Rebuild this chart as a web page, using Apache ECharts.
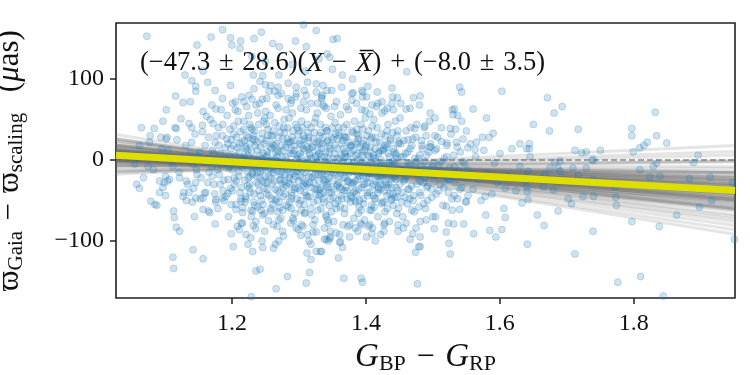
<!DOCTYPE html>
<html>
<head>
<meta charset="utf-8">
<script src="https://cdn.jsdelivr.net/npm/echarts@6/dist/echarts.min.js"></script>
<style>
  html, body { margin: 0; padding: 0; background: #fff; }
  #main { width: 750px; height: 375px; }
</style>
</head>
<body>
<div id="main"></div>
<script>
// x where the fit lines start and stop (edges of the plot)
const fitX = [1.027, 1.951]
// posterior sample lines: y at the left edge / y at the right edge
const sampleLeft = [25.7, 18.4, 22.6, 16.3, 17.4, 9.5, 15.9, 9.8, 10.6, 14.6, 5.0, 9.1, 4.7, 6.0, 7.6, 0.1, 4.2, 1.6, 6.0, -2.7, 0.9, -2.4, 0.2, -6.4, -11.6, -6.5, -15.1, 9.6, 2.4, 6.2, 6.1, 12.7, 0.0, 9.0, 3.4, 9.3, 3.0, 12.9, -0.6, 12.4, -1.8, 31.4, -17.7, 26.3, -14.6,
  23.8, 18.5, 21.0, 12.3, 15.6, 18.2, 9.9, 12.1, 4.9, 11.4, 7.4, 10.8, 3.6, 6.6, 3.0, 7.7, -1.5, 2.2, 4.1, -2.5, 0.1, -6.0, -3.8, -1.7, -9.0, -8.0, 26.3, -13.6, 11.4, 0.6, 8.6, 3.8, 5.4, 6.6, 12.8, -0.8, 18.4, -5.7, 11.6, 0.4]
const sampleRight = [-76.2, -72.8, -60.8, -61.7, -55.4, -59.3, -48.9, -51.1, -46.3, -39.6, -46.6, -39.9, -41.6, -37.7, -33.5, -38.3, -31.6, -31.6, -24.5, -29.2, -21.6, -21.0, -14.4, -15.8, -15.7, -2.6, -0.6, -35.5, -40.0, -41.5, -33.6, -37.7, -37.1, -44.0, -31.1, -50.2, -24.8, -49.2, -25.8, -57.8, -19.0, -91.6, 17.9, -86.2, 10.4,
  -70.1, -67.5, -59.7, -63.1, -55.9, -49.3, -53.6, -46.2, -50.7, -41.5, -42.9, -36.9, -41.4, -35.8, -36.8, -29.3, -36.0, -29.6, -25.0, -26.3, -19.8, -22.0, -15.8, -8.4, -10.4, -1.5, -80.8, 6.1, -48.1, -27.3, -37.8, -37.3, -46.3, -29.2, -52.1, -23.3, -59.6, -15.1, -32.1, -43.3]
// best fit line, y at left / right edge
const bestFit = [6.0, -37.7]
const zeroLine = [0, 0]
const xTicks = [1.2, 1.4, 1.6, 1.8]
const yTicks = [-100, 0, 100]

// scatter points [colour, offset]
const upperPoints = [[1.073,153],[1.186,161],[1.169,152],[1.148,142],[1.198,151],[1.213,147],[1.200,142],[1.212,138],[1.244,158],[1.233,150],[1.261,144],[1.271,140],[1.295,147],[1.311,140],[1.307,167],[1.326,160],[1.157,110],[1.130,105],[1.140,98],[1.146,91],[1.146,85],[1.164,96],[1.175,86],[1.198,92],[1.232,105],[1.246,104],[1.250,93],[1.242,97],[1.269,90],[1.269,80],[1.264,85],[1.284,95],[1.308,86],[1.313,96],[1.116,79],[1.127,71],[1.138,72],[1.102,62],[1.084,39],[1.094,28],[1.102,26],[1.077,22],[1.117,39],[1.124,51],[1.140,40],[1.156,43],[1.170,68],[1.176,63],[1.162,54],[1.186,76],[1.201,70],[1.218,72],[1.230,75],[1.284,76],[1.296,82],[1.326,84],[1.336,68],
  [1.351,149],[1.357,150],[1.342,131],[1.346,127],[1.365,105],[1.336,92],[1.342,86],[1.334,78],[1.381,83],[1.394,86],[1.395,78],[1.403,91],[1.439,89],[1.461,109],[1.447,77],[1.439,70],[1.471,77],[1.481,79],[1.460,63],[1.428,61],[1.418,70],[1.406,57],[1.399,61],[1.496,58],[1.503,52],[1.488,42],[1.540,90],[1.543,84],[1.603,85],[1.560,63],[1.532,63],[1.530,56],[1.543,48],[1.526,39],[1.534,38],[1.550,36],[1.580,52],[1.590,33],[1.574,28],[1.565,22],[1.521,21],[1.552,15],[1.563,13],[1.630,20],[1.640,14],
  [1.503,30],[1.513,23],[1.495,16],[1.463,25],[1.473,39],[1.487,40],[1.529,62],[1.537,55],
  [1.205,62],[1.215,78],[1.222,66],[1.233,88],[1.241,70],[1.252,76],[1.258,92],[1.266,68],[1.274,82],[1.281,62],[1.289,74],[1.296,90],[1.303,64],[1.311,80],[1.318,70],[1.326,94],[1.334,76],[1.341,64],[1.349,86],[1.356,72],[1.364,90],[1.371,66],[1.379,82],[1.386,70],[1.394,62],[1.401,78],[1.409,68],[1.417,84],[1.424,72],[1.432,64],[1.440,78],[1.452,70],[1.466,64],[1.480,68],[1.310,110],[1.290,118],[1.350,112],[1.250,122],[1.380,100],[1.270,105],[1.230,128],[1.330,125]]

const rightPoints = [[1.671,77],[1.681,58],[1.693,66],[1.650,44],[1.674,36],[1.644,20],[1.644,14],[1.717,38],[1.712,12],[1.722,9],[1.729,10],[1.750,12],[1.739,1],[1.797,39],[1.797,30],[1.832,59],[1.834,30],[1.849,21],[1.799,10],[1.809,15],[1.815,18],[1.820,22],[1.896,6],
  [1.640,-33],[1.641,-39],[1.642,-49],[1.656,-68],[1.666,-81],[1.641,-104],[1.687,-63],[1.702,-48],[1.707,-54],[1.712,-116],[1.739,-88],[1.724,-45],[1.740,-45],[1.717,-19],[1.709,-10],[1.729,-10],[1.687,-10],[1.675,-10],[1.690,-14],[1.665,-33],[1.680,-37],[1.739,-1],[1.739,-24],[1.773,-46],[1.774,-56],[1.797,-76],[1.776,-151],[1.810,-144],[1.838,-82],[1.809,-12],[1.824,-21],[1.829,-8],[1.839,-20],[1.834,-4],[1.864,-68],[1.844,-168],[1.883,-23],[1.889,-3],[1.914,-21],[1.916,-50],[1.898,-58],[1.947,-28],[1.950,-98],[1.682,-3],[1.690,-1],[1.667,-17],[1.642,-14],[1.772,-33]]

const lowerPoints = [[1.359,-121],[1.367,-146],[1.393,-146],[1.395,-151],[1.477,-153],[1.474,-114],[1.479,-107],[1.526,-116],[1.524,-103],[1.341,-98],[1.347,-95],[1.362,-101],[1.334,-113],[1.401,-95],[1.409,-91],[1.427,-88],[1.427,-80],[1.466,-98],[1.470,-91],[1.481,-95],[1.481,-107],[1.448,-80],[1.502,-85],[1.520,-89],[1.523,-78],[1.531,-79],[1.546,-79],[1.561,-91],[1.585,-87],[1.594,-95],[1.603,-86],[1.608,-71],[1.579,-68],[1.500,-70],[1.481,-76],[1.456,-84],[1.340,-68],[1.344,-78],[1.376,-80],[1.384,-84],[1.394,-80],[1.406,-80],[1.608,-35],[1.633,-53],[1.578,-45],[1.550,-51],[1.540,-61],[1.520,-57],
  [1.062,-35],[1.079,-51],[1.088,-56],[1.101,-44],[1.097,-34],[1.104,-26],[1.113,-63],[1.114,-71],[1.117,-83],[1.122,-88],[1.142,-111],[1.112,-120],[1.113,-134],[1.157,-122],[1.144,-70],[1.175,-79],[1.157,-61],[1.127,-45],[1.136,-40],[1.146,-47],[1.157,-47],[1.132,-50],[1.141,-52],[1.092,-26],[1.101,-20],[1.107,-24],[1.122,-22],[1.132,-26],[1.146,-28],[1.159,-41],[1.165,-63],[1.176,-49],[1.186,-47],[1.194,-41],[1.199,-55],[1.206,-61],[1.195,-70],[1.199,-91],[1.211,-86],[1.214,-78],[1.202,-107],[1.232,-81],[1.224,-104],[1.231,-113],[1.245,-100],[1.246,-108],[1.262,-109],[1.265,-104],[1.242,-135],[1.236,-137],[1.266,-159],[1.229,-169],[1.283,-144],[1.311,-152],[1.316,-139],[1.312,-115],[1.318,-123],[1.326,-113],[1.332,-113],[1.338,-98],[1.296,-84],[1.303,-93],[1.304,-80],[1.306,-82],[1.321,-89],[1.326,-89],[1.291,-72],[1.292,-75],[1.270,-74],[1.231,-63],[1.246,-68],[1.258,-63],[1.271,-59],[1.214,-51],[1.216,-59],[1.344,-100],[1.346,-97],[1.361,-102],
  [1.208,-82],[1.221,-92],[1.236,-76],[1.249,-88],[1.262,-80],[1.277,-94],[1.288,-78],[1.299,-86],[1.313,-92],[1.324,-74],[1.338,-84],[1.352,-76],[1.361,-92],[1.373,-82],[1.388,-88],[1.398,-74],[1.410,-84],[1.422,-92],[1.435,-76],[1.448,-88],[1.460,-78],[1.475,-84],[1.490,-74],[1.228,-96],[1.270,-100],[1.318,-104],[1.365,-108],[1.414,-100]]

const wingPoints = [[1.055,-5],[1.062,18],[1.068,-22],[1.072,6],[1.078,30],[1.083,-12],[1.088,2],[1.092,-40],[1.095,14],[1.099,-28],[1.065,40],[1.085,-55],[1.058,-30],[1.075,-8],[1.097,48],
  [1.105,12],[1.112,-8],[1.118,25],[1.121,-15],[1.125,3],[1.131,18],[1.134,-30],[1.138,8],[1.142,-5],[1.145,32],[1.148,-18],[1.108,-2],[1.115,40],[1.128,-40],[1.140,22],[1.147,-12],[1.103,28],[1.136,45],[1.143,-35],[1.149,5],
  [1.152,10],[1.154,-22],[1.156,35],[1.158,-3],[1.160,18],[1.161,-40],[1.163,2],[1.165,28],[1.166,-15],[1.168,50],[1.170,-8],[1.171,12],[1.173,-30],[1.175,22],[1.176,-52],[1.178,0],[1.180,40],[1.181,-18],[1.183,8],[1.185,-6],[1.186,30],[1.188,-25],[1.190,15],[1.191,-45],[1.193,55],[1.195,-10],[1.196,5],[1.198,-35],[1.199,25],[1.157,60],[1.164,-28],[1.172,45],[1.179,-60],[1.184,62],[1.192,-2],[1.197,38],[1.153,-48],[1.167,-65],[1.187,-38],[1.194,20],
  [1.552,-12],[1.556,20],[1.560,-36],[1.564,4],[1.568,-24],[1.572,-50],[1.576,12],[1.580,-16],[1.584,28],[1.588,-42],[1.592,-4],[1.596,-28],[1.600,8],[1.606,-60],[1.612,-20],[1.618,14],[1.624,-38],[1.630,-8],[1.638,-26],[1.645,4]]

const corePoints = [[1.201,-12],[1.202,18],[1.203,42],[1.204,-30],[1.205,5],[1.206,-55],[1.207,28],[1.208,-2],[1.209,60],[1.210,-20],[1.211,10],[1.212,-40],[1.213,35],[1.214,-8],[1.215,22],[1.216,-65],[1.217,0],[1.218,48],[1.219,-25],[1.220,14],[1.221,-48],[1.222,30],[1.223,-14],[1.224,6],[1.225,55],[1.226,-35],[1.227,20],[1.228,-5],[1.229,-70],[1.230,38],[1.231,-18],[1.232,2],[1.233,-42],[1.234,25],[1.235,-10],[1.236,68],[1.237,-28],[1.238,12],[1.239,-58],[1.240,44],[1.241,-3],[1.242,-22],[1.243,16],[1.244,-50],[1.245,33],[1.246,-12],[1.247,8],[1.248,-35],[1.249,52],[1.2035,-22],[1.2085,15],[1.2135,-48],[1.2185,24],[1.2235,-32],[1.2285,40],[1.2335,-8],[1.2385,58],[1.2435,-62],[1.2485,20],[1.2055,72],[1.2155,-78],[1.2255,80],[1.2355,-85],[1.2455,75],[1.212,-2],[1.227,-20],[1.238,-15],[1.246,-26],[1.219,4],[1.231,26],
  [1.250,-8],[1.251,24],[1.252,-42],[1.253,6],[1.254,38],[1.255,-20],[1.256,-2],[1.257,55],[1.258,-60],[1.259,14],[1.260,-30],[1.261,30],[1.262,-12],[1.263,2],[1.264,46],[1.265,-50],[1.266,20],[1.267,-5],[1.268,-38],[1.269,64],[1.270,10],[1.271,-25],[1.272,34],[1.273,-72],[1.274,-15],[1.275,4],[1.276,26],[1.277,-45],[1.278,50],[1.279,-10],[1.280,16],[1.281,-32],[1.282,-1],[1.283,40],[1.284,-58],[1.285,22],[1.286,-18],[1.287,8],[1.288,70],[1.289,-40],[1.290,28],[1.291,-6],[1.292,-24],[1.293,12],[1.294,-66],[1.295,44],[1.296,-14],[1.297,2],[1.298,-35],[1.299,32],[1.2505,60],[1.2545,-75],[1.2585,-22],[1.2625,18],[1.2665,-48],[1.2705,42],[1.2745,-30],[1.2785,-4],[1.2825,26],[1.2865,-52],[1.2905,58],[1.2945,-20],[1.2985,6],[1.253,-28],[1.261,-55],[1.268,12],[1.276,-62],[1.283,-12],[1.291,36],[1.297,-48],[1.257,-12],[1.264,0],[1.272,-18],[1.279,-26],[1.287,-30],[1.294,18],[1.2555,85],[1.2755,-88],[1.2955,78],[1.2675,-82],
  [1.300,-10],[1.301,20],[1.302,-38],[1.303,4],[1.304,48],[1.305,-22],[1.306,-2],[1.307,30],[1.308,-55],[1.309,12],[1.310,-15],[1.311,62],[1.312,-30],[1.313,0],[1.314,24],[1.315,-45],[1.316,8],[1.317,-8],[1.318,40],[1.319,-68],[1.320,16],[1.321,-20],[1.322,-4],[1.323,34],[1.324,-36],[1.325,52],[1.326,-12],[1.327,6],[1.328,-50],[1.329,22],[1.330,-26],[1.331,-1],[1.332,44],[1.333,-60],[1.334,14],[1.335,-16],[1.336,28],[1.337,-40],[1.338,66],[1.339,-6],[1.340,10],[1.341,-32],[1.342,36],[1.343,-74],[1.344,2],[1.345,-22],[1.346,18],[1.347,-48],[1.348,54],[1.349,-12],[1.3005,36],[1.3035,-62],[1.3065,14],[1.3095,-28],[1.3125,44],[1.3155,-8],[1.3185,-34],[1.3215,26],[1.3245,-18],[1.3275,58],[1.3305,-44],[1.3335,4],[1.3365,-24],[1.3395,40],[1.3425,-14],[1.3455,-56],[1.3485,28],[1.302,-20],[1.309,-40],[1.316,-28],[1.323,-10],[1.330,8],[1.337,-14],[1.344,-34],[1.307,72],[1.321,-80],[1.335,80],[1.347,-88],[1.312,16],[1.326,22],[1.339,-26],[1.305,-5],[1.318,2],[1.331,-36],[1.343,24],[1.309,-65],[1.328,70],[1.341,-70],[1.315,-100],[1.333,-42],
  [1.350,-4],[1.351,26],[1.352,-36],[1.353,8],[1.354,46],[1.355,-18],[1.356,-60],[1.357,14],[1.358,-8],[1.359,34],[1.360,-28],[1.361,2],[1.362,56],[1.363,-44],[1.364,20],[1.365,-12],[1.366,-2],[1.367,40],[1.368,-66],[1.369,10],[1.370,-22],[1.371,28],[1.372,-38],[1.373,4],[1.374,62],[1.375,-16],[1.376,18],[1.377,-52],[1.378,-6],[1.379,36],[1.380,-30],[1.381,12],[1.382,-72],[1.383,48],[1.384,-10],[1.385,22],[1.386,-42],[1.387,0],[1.388,-24],[1.389,30],[1.390,-58],[1.391,16],[1.392,-14],[1.393,44],[1.394,-34],[1.395,6],[1.396,-48],[1.397,24],[1.398,-4],[1.399,52],[1.3505,-26],[1.3545,32],[1.3585,-50],[1.3625,-16],[1.3665,14],[1.3705,-34],[1.3745,22],[1.3785,-46],[1.3825,-2],[1.3865,38],[1.3905,-20],[1.3945,10],[1.3985,-30],[1.353,66],[1.366,-80],[1.379,74],[1.392,-78],[1.358,-30],[1.364,-48],[1.371,-10],[1.377,8],[1.384,-38],[1.389,-8],[1.396,-20],[1.361,-34],[1.368,30],[1.374,-26],[1.381,-14],[1.387,20],[1.393,-62],[1.3555,-90],[1.3755,-95],[1.3955,84],[1.363,6],[1.385,-52],
  [1.400,-12],[1.401,18],[1.402,-40],[1.403,6],[1.404,36],[1.405,-22],[1.406,-62],[1.407,10],[1.408,-6],[1.409,28],[1.410,-32],[1.411,2],[1.412,50],[1.413,-48],[1.414,14],[1.415,-16],[1.416,-2],[1.417,40],[1.418,-70],[1.419,8],[1.420,-26],[1.421,22],[1.422,-36],[1.423,0],[1.424,58],[1.425,-20],[1.426,12],[1.427,-52],[1.428,-8],[1.429,30],[1.430,-30],[1.431,16],[1.432,-60],[1.433,44],[1.434,-14],[1.435,4],[1.436,-42],[1.437,24],[1.438,-24],[1.439,-2],[1.440,34],[1.441,-56],[1.442,10],[1.443,-18],[1.444,48],[1.445,-34],[1.446,2],[1.447,-46],[1.448,20],[1.449,-10],[1.4025,-28],[1.4075,26],[1.4125,-58],[1.4175,-20],[1.4225,12],[1.4275,-38],[1.4325,20],[1.4375,-50],[1.4425,-4],[1.4475,36],[1.404,-82],[1.416,66],[1.428,-78],[1.441,62],[1.446,-66],[1.411,-44],[1.423,-12],[1.434,-30],[1.445,8],[1.419,-34],
  [1.450,-14],[1.452,20],[1.454,-40],[1.456,4],[1.458,-24],[1.460,36],[1.462,-54],[1.464,-4],[1.466,14],[1.468,-32],[1.470,26],[1.472,-64],[1.474,-10],[1.476,44],[1.478,-20],[1.480,6],[1.482,-44],[1.484,18],[1.486,-28],[1.488,-2],[1.490,30],[1.492,-50],[1.494,10],[1.496,-18],[1.498,-36],[1.451,52],[1.455,-70],[1.459,8],[1.463,-36],[1.467,40],[1.471,-44],[1.475,-2],[1.479,-58],[1.483,24],[1.487,-12],[1.491,-34],[1.495,48],[1.499,-8],[1.457,-16],[1.465,-48],[1.473,2],[1.481,-26],[1.489,-60],[1.497,16],[1.461,-8],
  [1.501,-18],[1.503,12],[1.505,-42],[1.507,28],[1.509,-6],[1.511,-30],[1.513,40],[1.515,-56],[1.517,2],[1.519,-22],[1.521,18],[1.523,-40],[1.525,-10],[1.527,32],[1.529,-62],[1.531,6],[1.533,-28],[1.535,22],[1.537,-48],[1.539,-14],[1.541,10],[1.543,-34],[1.545,26],[1.547,-4],[1.549,-52],[1.504,-70],[1.512,-2],[1.522,-24],[1.532,-44],[1.542,-20]]

const coreExtra = [[1.1705,-20],[1.1725,8],[1.1745,-42],[1.1765,30],[1.1785,-12],[1.1805,18],[1.1825,-30],[1.1845,-2],[1.1865,44],[1.1885,-50],
  [1.1905,2],[1.1925,26],[1.1945,-24],[1.1965,-8],[1.1985,14],[1.2005,-38],[1.2025,32],[1.2045,-4],[1.2065,-26],[1.2095,48],
  [1.2105,-14],[1.2115,20],[1.2145,-34],[1.2165,2],[1.2175,38],[1.2195,-52],[1.2205,-6],[1.2215,16],[1.2245,-22],[1.2265,44],
  [1.2275,-40],[1.2295,10],[1.2305,-16],[1.2325,30],[1.2345,-56],[1.2365,-2],[1.2375,22],[1.2395,-30],[1.2415,6],[1.2425,-44],
  [1.2445,26],[1.2465,-8],[1.2475,48],[1.2495,-20],[1.2515,4],[1.2525,-36],[1.2535,30],[1.2565,-10],[1.2575,16],[1.2595,-48],
  [1.2605,-2],[1.2615,36],[1.2635,-26],[1.2655,10],[1.2685,-14],[1.2695,28],[1.2715,-40],[1.2725,-6],[1.2735,18],[1.2765,-34],
  [1.2775,40],[1.2795,-18],[1.2805,4],[1.2815,-56],[1.2835,20],[1.2845,-28],[1.2855,52],[1.2875,-8],[1.2885,12],[1.2895,-44],
  [1.2915,-16],[1.2925,24],[1.2935,-36],[1.2965,0],[1.2975,40],[1.2995,-26],[1.3015,8],[1.3025,-50],[1.3045,18],[1.3055,-12],
  [1.3075,-32],[1.3085,26],[1.3105,-4],[1.3115,-44],[1.3135,34],[1.3145,-20],[1.3165,6],[1.3175,-60],[1.3195,16],[1.3205,-8],
  [1.3225,-28],[1.3235,46],[1.3255,-42],[1.3265,-2],[1.3285,12],[1.3295,-18],[1.3315,30],[1.3325,-34],[1.3345,-10],[1.3355,20],
  [1.3375,-52],[1.3385,4],[1.3405,-24],[1.3415,36],[1.3435,-6],[1.3445,-40],[1.3465,14],[1.3475,-16],[1.3495,40],[1.3515,-46],
  [1.3525,-10],[1.3535,18],[1.3565,-32],[1.3575,2],[1.3595,-20],[1.3605,30],[1.3615,-58],[1.3635,-4],[1.3655,24],[1.3675,-38],
  [1.3685,8],[1.3695,-14],[1.3715,44],[1.3725,-26],[1.3735,-2],[1.3765,-44],[1.3775,16],[1.3795,-8],[1.3805,34],[1.3815,-28],
  [1.3835,-50],[1.3845,6],[1.3875,-18],[1.3885,26],[1.3895,-36],[1.3915,0],[1.3935,-12],[1.3955,38],[1.3965,-54],[1.3975,12],
  [1.4005,-22],[1.4015,30],[1.4035,-6],[1.4055,-40],[1.4065,16],[1.4085,-16],[1.4095,42],[1.4115,-30],[1.4135,2],[1.4145,-48],
  [1.4155,22],[1.4165,-10],[1.4185,-36],[1.4195,10],[1.4215,-20],[1.4235,32],[1.4245,-52],[1.4265,-4],[1.4285,18],[1.4295,-28],
  [1.4315,-44],[1.4335,8],[1.4345,-14],[1.4365,26],[1.4385,-34],[1.4395,-6],[1.4415,14],[1.4435,-46],[1.4445,-24],[1.4465,30],
  [1.4505,-30],[1.4525,4],[1.4545,-12],[1.4565,24],[1.4585,-46],[1.4605,-20],[1.4625,10],[1.4645,-36],[1.4665,-6],[1.4685,18],
  [1.4705,-50],[1.4725,-14],[1.4745,28],[1.4765,-30],[1.4785,2],[1.4805,-40],[1.4825,-8],[1.4845,14],[1.4865,-54],[1.4885,-22],
  [1.4905,6],[1.4925,-32],[1.4945,-12],[1.4965,20],[1.4985,-46],[1.5005,-4],[1.5025,-26],[1.5055,14],[1.5085,-38],[1.5125,-14],
  [1.5165,-34],[1.5205,4],[1.5245,-24],[1.5285,-48],[1.5325,-8],[1.5365,16],[1.5405,-36],[1.5445,-2],[1.5485,-22],[1.5525,-44]]

const coreDense = [[1.2205,-45],[1.2235,12],[1.2265,-30],[1.2295,-8],[1.2325,-52],[1.2345,18],[1.2375,-20],[1.2405,-38],[1.2435,2],[1.2465,-55],
  [1.2495,-28],[1.2525,10],[1.2555,-44],[1.2585,30],[1.2615,-16],[1.2645,-36],[1.2675,4],[1.2705,-52],[1.2735,-24],[1.2765,12],
  [1.2795,-42],[1.2825,-6],[1.2855,-22],[1.2885,-48],[1.2915,8],[1.2945,-34],[1.2975,-14],[1.3005,-54],[1.3035,24],[1.3065,-30],
  [1.3095,-4],[1.3125,-46],[1.3155,14],[1.3185,-22],[1.3215,-52],[1.3245,4],[1.3275,-36],[1.3305,20],[1.3335,-18],[1.3365,-48],
  [1.3395,-2],[1.3425,-30],[1.3455,10],[1.3485,-40],[1.3515,-16],[1.3545,-54],[1.3575,26],[1.3605,-10],[1.3635,-36],[1.3665,-22],
  [1.3695,4],[1.3725,-48],[1.3755,-12],[1.3785,18],[1.3815,-40],[1.3845,-26],[1.3875,8],[1.3905,-50],[1.3935,-4],[1.3965,-30],
  [1.3995,16],[1.4025,-44],[1.4055,-16],[1.4085,-56],[1.4115,6],[1.4145,-26],[1.4175,-40],[1.4205,-8],[1.4235,-54],[1.4265,14],
  [1.4295,-18],[1.4325,-34],[1.4355,-4],[1.4385,-48],[1.4415,-22],[1.4445,6],[1.4475,-38],[1.4505,-12],[1.4535,-52],[1.4565,-26],
  [1.2245,28],[1.2335,36],[1.2425,-14],[1.2515,44],[1.2605,20],[1.2695,-2],[1.2785,34],[1.2875,22],[1.2965,-8],[1.3055,40],
  [1.3145,28],[1.3235,-6],[1.3325,34],[1.3415,22],[1.3505,2],[1.3595,40],[1.3685,28],[1.3775,-28],[1.3865,32],[1.3955,20],
  [1.4045,4],[1.4135,28],[1.4225,-30],[1.4315,36],[1.4405,-42],[1.4495,22],[1.2285,-62],[1.2485,-66],[1.2685,-64],[1.2885,-60],
  [1.3085,-66],[1.3285,-62],[1.3485,-64],[1.3685,-60],[1.3885,-66],[1.4085,-62],[1.4285,-64],[1.4485,-60],[1.4685,-62]]

const scatterPoints = [].concat(upperPoints, rightPoints, lowerPoints, wingPoints, corePoints, coreExtra, coreDense)

const chart = echarts.init(document.getElementById('main'), null, { renderer: 'canvas' })

const serif = 'Liberation Serif, DejaVu Serif, serif'
const minusFmt = v => String(v).replace('-', '\u2212')
const sp = '\u2004' // a slightly wider space, like TeX's math spacing

// one line series for each posterior sample
const bandSeries = sampleLeft.map((yl, i) => ({
  type: 'line',
  silent: true,
  showSymbol: false,
  z: 2,
  data: [[fitX[0], yl], [fitX[1], sampleRight[i]]],
  lineStyle: { color: '#666', width: 3, opacity: 0.17 }
}))

const option = {
  animation: false,
  grid: {
    left: 116, right: 15, top: 23, bottom: 77,
    containLabel: false, outerBoundsMode: 'none',
    show: true, borderColor: '#222', borderWidth: 1.6, backgroundColor: 'transparent'
  },
  xAxis: {
    type: 'value',
    min: 1.027,
    max: 1.951,
    axisLine: { show: false, onZero: false },
    splitLine: { show: false },
    axisTick: { show: true, inside: false, length: 6, lineStyle: { color: '#222', width: 1.5 }, customValues: xTicks },
    axisLabel: {
      customValues: xTicks, margin: 14, color: '#111', fontFamily: serif, fontSize: 24,
      formatter: v => v.toFixed(1)
    },
    name: '{i|G}{s|BP}{r|' + sp + '\u2212' + sp + '}{i|G}{s|RP}',
    nameLocation: 'middle',
    nameGap: 37,
    nameTextStyle: {
      rich: {
        i: { fontFamily: serif, fontStyle: 'italic', fontSize: 33, color: '#111', lineHeight: 34 },
        r: { fontFamily: serif, fontSize: 32, color: '#111', lineHeight: 34 },
        s: { fontFamily: serif, fontSize: 22, color: '#111', padding: [13, 0, 0, 0] }
      }
    }
  },
  yAxis: {
    type: 'value',
    min: -170.5,
    max: 169.3,
    axisLine: { show: false, onZero: false },
    splitLine: { show: false },
    axisTick: { show: true, inside: false, length: 6, lineStyle: { color: '#222', width: 1.5 }, customValues: yTicks },
    axisLabel: {
      customValues: yTicks, margin: 12, color: '#111', fontFamily: serif, fontSize: 24,
      formatter: minusFmt
    },
    name: '{m|\u03d6}{s|Gaia}{m|' + sp + '\u2212' + sp + '\u03d6}{s|scaling}{m|' + sp + sp + '(}{g|\u03bc}{m|as)}',
    nameLocation: 'middle',
    nameRotate: 90,
    nameGap: 89,
    nameTextStyle: {
      rich: {
        m: { fontFamily: serif, fontSize: 31, color: '#111', lineHeight: 34 },
        g: { fontFamily: serif, fontStyle: 'italic', fontSize: 31, color: '#111', lineHeight: 34 },
        s: { fontFamily: serif, fontSize: 21, color: '#111', padding: [13, 0, 0, 0] }
      }
    }
  },
  graphic: [{
    type: 'text',
    left: 140,
    top: 50,
    silent: true,
    style: {
      text: '{r|(\u221247.3' + sp + '\u00b1' + sp + '28.6)(}{i|X}{r|' + sp + '\u2212' + sp + '}{i|X\u0305}{r|)' + sp + '+' + sp + '(\u22128.0' + sp + '\u00b1' + sp + '3.5)}',
      rich: {
        r: { fontFamily: serif, fontSize: 26.5, fill: '#111' },
        i: { fontFamily: serif, fontStyle: 'italic', fontSize: 27.5, fill: '#111' }
      }
    }
  }],
  series: [
    {
      type: 'line',
      silent: true,
      showSymbol: false,
      z: 1,
      data: [[fitX[0], zeroLine[0]], [fitX[1], zeroLine[1]]],
      lineStyle: { color: '#8a8a8a', width: 1.5, type: [6, 3] }
    },
    ...bandSeries,
    {
      type: 'scatter',
      silent: true,
      z: 3,
      symbol: 'circle',
      symbolSize: 7,
      data: scatterPoints,
      itemStyle: {
        color: 'rgba(31,119,180,0.27)',
        borderColor: 'rgba(31,119,180,0.29)',
        borderWidth: 1
      }
    },
    {
      type: 'line',
      silent: true,
      showSymbol: false,
      z: 4,
      data: [[fitX[0], bestFit[0]], [fitX[1], bestFit[1]]],
      lineStyle: { color: '#dede00', width: 7 }
    }
  ]
}

chart.setOption(option)
</script>
</body>
</html>
